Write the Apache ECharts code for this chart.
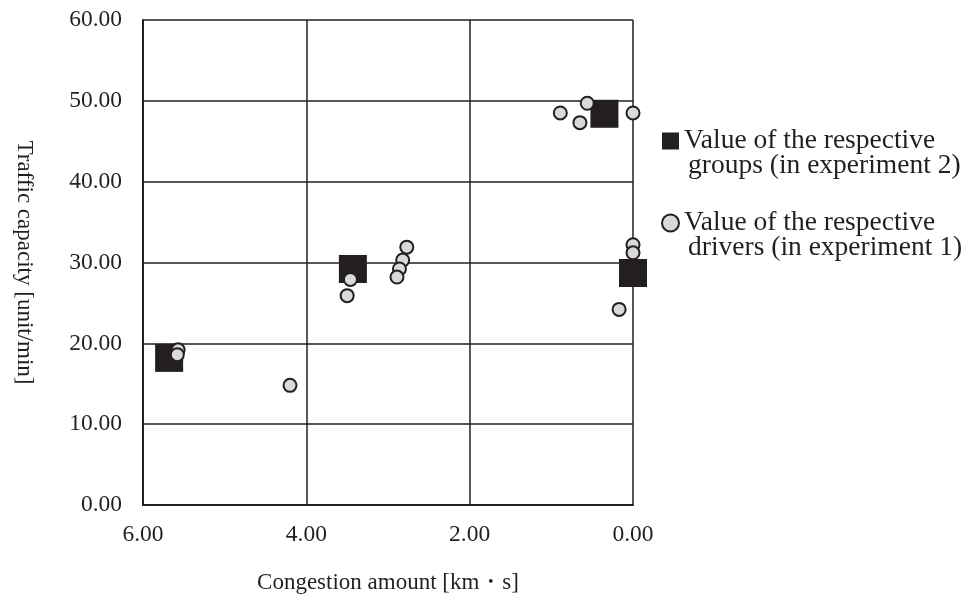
<!DOCTYPE html>
<html>
<head>
<meta charset="utf-8">
<script src="https://cdn.jsdelivr.net/npm/echarts@6/dist/echarts.min.js"></script>
<style>
  html, body { margin: 0; padding: 0; background: #fff; }
  #chart { width: 979px; height: 601px; }
</style>
</head>
<body>
<div id="chart"></div>
<script>
// Group values measured in experiment 2: [congestion km·s, capacity unit/min]
const groupCongestion = [0.35, 3.43, 0.00, 5.68];
const groupCapacity   = [48.4, 29.2, 28.7, 18.2];

// Individual drivers measured in experiment 1
const driverCongestion = [0.56, 0.89, 0.65, 0.00, 3.46, 3.50, 2.77, 2.82, 2.86, 2.89, 0.00, 0.00, 0.17, 5.57, 5.58, 4.20];
const driverCapacity   = [49.7, 48.5, 47.3, 48.5, 27.9, 25.9, 31.9, 30.3, 29.2, 28.2, 32.2, 31.2, 24.2, 19.2, 18.6, 14.8];

const xTicks = [0, 2, 4, 6];
const yTicks = [0, 10, 20, 30, 40, 50, 60];

const seriesNames = [
  ['Value of the respective', 'groups (in experiment 2)'],
  ['Value of the respective', 'drivers (in experiment 1)']
];

const pair = (xs, ys) => xs.map((x, i) => [x, ys[i]]);
const serif = '"Liberation Serif", "Times New Roman", serif';
const ink = '#231f20';

const chart = echarts.init(document.getElementById('chart'), null, { renderer: 'canvas' });

chart.setOption({
  animation: false,
  backgroundColor: '#ffffff',
  grid: { left: 143, top: 20, width: 490, height: 485 },
  xAxis: {
    type: 'value',
    inverse: true,
    min: xTicks[0],
    max: xTicks[xTicks.length - 1],
    interval: xTicks[1] - xTicks[0],
    name: 'Congestion amount [km・s]',
    nameLocation: 'middle',
    nameGap: 66,
    nameTextStyle: { fontFamily: serif, fontSize: 23, color: ink },
    axisLine: { show: true, onZero: false, lineStyle: { color: ink, width: 2 } },
    axisTick: { show: false },
    axisLabel: { fontFamily: serif, fontSize: 23.5, color: ink, margin: 18,
                 formatter: v => v.toFixed(2) },
    splitLine: { show: true, lineStyle: { color: ink, width: 1.5 } }
  },
  yAxis: {
    type: 'value',
    min: yTicks[0],
    max: yTicks[yTicks.length - 1],
    interval: yTicks[1] - yTicks[0],
    name: 'Traffic capacity [unit/min]',
    nameLocation: 'middle',
    nameRotate: -90,
    nameGap: 107,
    nameTextStyle: { fontFamily: serif, fontSize: 23, color: ink },
    axisLine: { show: true, onZero: false, lineStyle: { color: ink, width: 2 } },
    axisTick: { show: false },
    axisLabel: { fontFamily: serif, fontSize: 23.5, color: ink, margin: 21,
                 formatter: v => v.toFixed(2) },
    splitLine: { show: true, lineStyle: { color: ink, width: 1.5 } }
  },
  legend: {
    orient: 'vertical',
    left: 656,
    top: 97,
    itemGap: 4,
    itemWidth: 17,
    itemHeight: 17,
    data: [
      { name: 'groups', icon: 'rect' },
      { name: 'drivers', icon: 'circle' }
    ],
    formatter: name => {
      const lines = name === 'groups' ? seriesNames[0] : seriesNames[1];
      return '{e| }\n{a|' + lines[0] + '}\n{b|' + lines[1] + '}';
    },
    textStyle: {
      fontFamily: serif, fontSize: 27.5, color: ink, padding: [0, 0, 0, 0],
      rich: {
        e: { fontSize: 27.5, lineHeight: 25 },
        a: { fontFamily: serif, fontSize: 27.5, lineHeight: 25, color: ink },
        b: { fontFamily: serif, fontSize: 27.5, lineHeight: 25, color: ink, padding: [0, 0, 0, 4] }
      }
    }
  },
  series: [
    {
      name: 'groups',
      type: 'scatter',
      symbol: 'rect',
      symbolSize: 28,
      itemStyle: { color: ink, opacity: 1 },
      data: pair(groupCongestion, groupCapacity)
    },
    {
      name: 'drivers',
      type: 'scatter',
      symbol: 'circle',
      symbolSize: 13,
      itemStyle: { color: '#d9d9d9', borderColor: ink, borderWidth: 2, opacity: 1 },
      data: pair(driverCongestion, driverCapacity)
    }
  ]
});
</script>
</body>
</html>
